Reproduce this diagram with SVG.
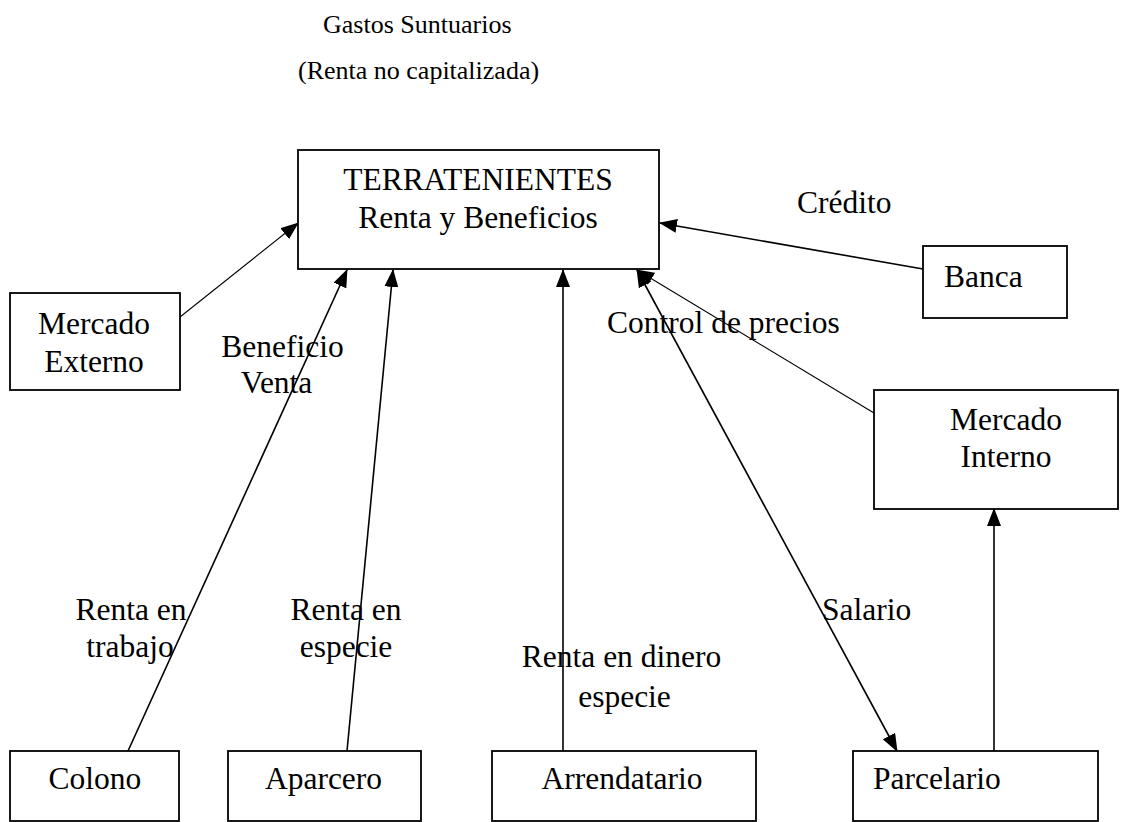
<svg xmlns="http://www.w3.org/2000/svg" width="1126" height="822" viewBox="0 0 1126 822">
<style>
.box{fill:#fff;stroke:#000;stroke-width:1.8}
.t{font-family:"Liberation Serif","Times New Roman",serif;font-size:31.5px;fill:#000}
.s{font-family:"Liberation Serif","Times New Roman",serif;font-size:26px;fill:#000}
.m{text-anchor:middle}
.c{fill:none;stroke:#000;stroke-width:1.6}
.thin{stroke-width:1.1}
</style>
<defs>
<marker id="ah" markerUnits="userSpaceOnUse" markerWidth="18" markerHeight="14" viewBox="0 0 18 14" refX="17" refY="7" orient="auto">
<path d="M0,0 L18,7 L0,14 Z" fill="#000"/>
</marker>
<marker id="as" markerUnits="userSpaceOnUse" markerWidth="18" markerHeight="14" viewBox="0 0 18 14" refX="1" refY="7" orient="auto">
<path d="M18,0 L0,7 L18,14 Z" fill="#000"/>
</marker>
</defs>
<rect width="1126" height="822" fill="#fff"/>
<text class="s" x="323" y="33">Gastos Suntuarios</text>
<text class="s" x="298" y="79">(Renta no capitalizada)</text>
<g id="connectors">
<line class="c thin" x1="180" y1="317" x2="298" y2="223" marker-end="url(#ah)"/>
<line class="c" x1="923" y1="269" x2="660" y2="223" marker-end="url(#ah)"/>
<line class="c" x1="128" y1="751" x2="347" y2="270" marker-end="url(#ah)"/>
<line class="c" x1="347" y1="751" x2="393" y2="270" marker-end="url(#ah)"/>
<line class="c" x1="563" y1="751" x2="563" y2="270" marker-end="url(#ah)"/>
<line class="c" x1="897" y1="751" x2="637" y2="270" marker-start="url(#as)" marker-end="url(#ah)"/>
<line class="c thin" x1="874" y1="413" x2="637" y2="270" marker-end="url(#ah)"/>
<line class="c" x1="994" y1="751" x2="994" y2="509" marker-end="url(#ah)"/>
</g>
<g id="labels">
<text class="t" x="797" y="213">Crédito</text>
<text class="t" x="607" y="333">Control de precios</text>
<text class="t m" x="282.5" y="357">Beneficio</text>
<text class="t m" x="276.5" y="393">Venta</text>
<text class="t m" x="131" y="620">Renta en</text>
<text class="t m" x="130" y="657">trabajo</text>
<text class="t m" x="346" y="620">Renta en</text>
<text class="t m" x="346" y="657">especie</text>
<text class="t m" x="621.5" y="667">Renta en dinero</text>
<text class="t m" x="624.5" y="707">especie</text>
<text class="t" x="822" y="620">Salario</text>
</g>
<g id="terratenientes">
<rect class="box" x="298" y="150" width="361" height="119"/>
<text class="t m" x="478" y="190">TERRATENIENTES</text>
<text class="t m" x="478" y="228">Renta y Beneficios</text>
</g>
<g id="mercado-externo">
<rect class="box" x="10" y="293" width="170" height="97"/>
<text class="t m" x="94" y="334">Mercado</text>
<text class="t m" x="94" y="372">Externo</text>
</g>
<g id="banca">
<rect class="box" x="923" y="246" width="144" height="72"/>
<text class="t" x="944" y="287">Banca</text>
</g>
<g id="mercado-interno">
<rect class="box" x="874" y="390" width="244" height="119"/>
<text class="t m" x="1006" y="430">Mercado</text>
<text class="t m" x="1006" y="467">Interno</text>
</g>
<g id="colono">
<rect class="box" x="10" y="751" width="169" height="70"/>
<text class="t m" x="95" y="789">Colono</text>
</g>
<g id="aparcero">
<rect class="box" x="228" y="751" width="193" height="70"/>
<text class="t m" x="323.5" y="789">Aparcero</text>
</g>
<g id="arrendatario">
<rect class="box" x="492" y="751" width="264" height="70"/>
<text class="t m" x="622" y="789">Arrendatario</text>
</g>
<g id="parcelario">
<rect class="box" x="853" y="751" width="245" height="70"/>
<text class="t" x="873" y="789">Parcelario</text>
</g>
</svg>
